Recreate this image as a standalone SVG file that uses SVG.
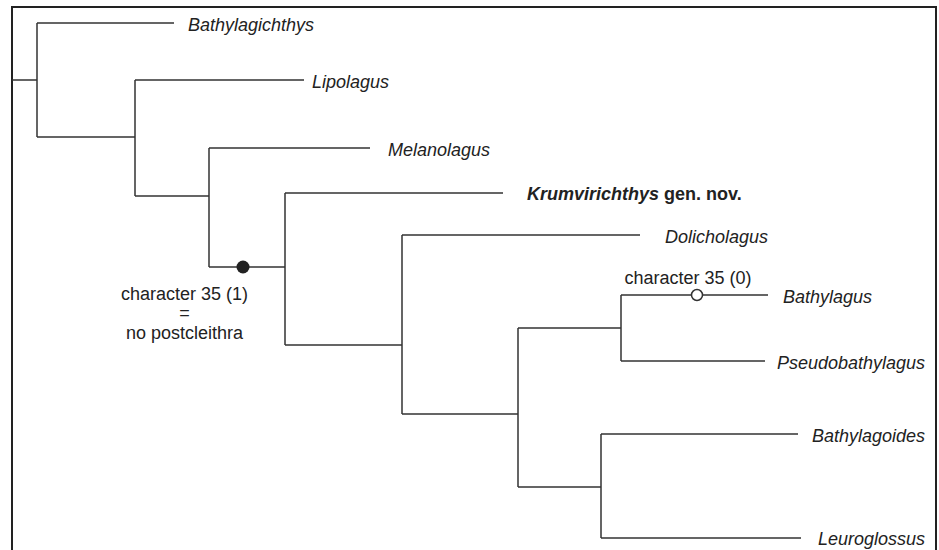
<svg xmlns="http://www.w3.org/2000/svg" width="939" height="550" viewBox="0 0 939 550">
<style>
.frame{fill:none;stroke:#222;stroke-width:2}
.br{fill:none;stroke:#333;stroke-width:1.5}
.tx{font-family:"Liberation Sans",Arial,sans-serif;font-size:18px;fill:#222}
.it{font-style:italic}
.bd{font-weight:bold}
.mid{text-anchor:middle}
</style>
<rect width="939" height="550" fill="#fff"/>
<path class="frame" d="M12,550 V7 H936 V550"/>
<g id="connectors">
<path class="br" d="M12,80 H37 M37,23 V137 M37,23 H174 M37,137 H135"/>
<path class="br" d="M135,80 V196 M135,80 H304 M135,196 H209"/>
<path class="br" d="M209,148 V267 M209,148 H370 M209,267 H285"/>
<path class="br" d="M285,193 V345 M285,193 H503 M285,345 H402"/>
<path class="br" d="M402,235 V414 M402,235 H640 M402,414 H518"/>
<path class="br" d="M518,328 V487 M518,328 H621 M518,487 H601"/>
<path class="br" d="M621,295 V361 M621,295 H768 M621,361 H765"/>
<path class="br" d="M601,434 V538 M601,434 H798 M601,538 H801"/>
</g>
<g id="marker-apomorphy">
<circle cx="243" cy="267" r="6.5" fill="#222"/>
<text class="tx mid" x="184.5" y="300">character 35 (1)</text>
<text class="tx mid" x="184.5" y="319">=</text>
<text class="tx mid" x="184.5" y="339">no postcleithra</text>
</g>
<g id="marker-reversal">
<circle cx="697" cy="295" r="5.5" fill="#fff" stroke="#333" stroke-width="1.5"/>
<text class="tx mid" x="688" y="284">character 35 (0)</text>
</g>
<g id="taxon-bathylagichthys"><text class="tx it" x="188" y="30.5">Bathylagichthys</text></g>
<g id="taxon-lipolagus"><text class="tx it" x="312" y="87.5">Lipolagus</text></g>
<g id="taxon-melanolagus"><text class="tx it" x="388" y="155.5">Melanolagus</text></g>
<g id="taxon-krumvirichthys"><text class="tx bd it" x="527" y="200">Krumvirichthys<tspan font-style="normal"> gen. nov.</tspan></text></g>
<g id="taxon-dolicholagus"><text class="tx it" x="665" y="242.5">Dolicholagus</text></g>
<g id="taxon-bathylagus"><text class="tx it" x="783" y="302.5">Bathylagus</text></g>
<g id="taxon-pseudobathylagus"><text class="tx it" x="777" y="368.5">Pseudobathylagus</text></g>
<g id="taxon-bathylagoides"><text class="tx it" x="812" y="441.5">Bathylagoides</text></g>
<g id="taxon-leuroglossus"><text class="tx it" x="818" y="545">Leuroglossus</text></g>
</svg>
